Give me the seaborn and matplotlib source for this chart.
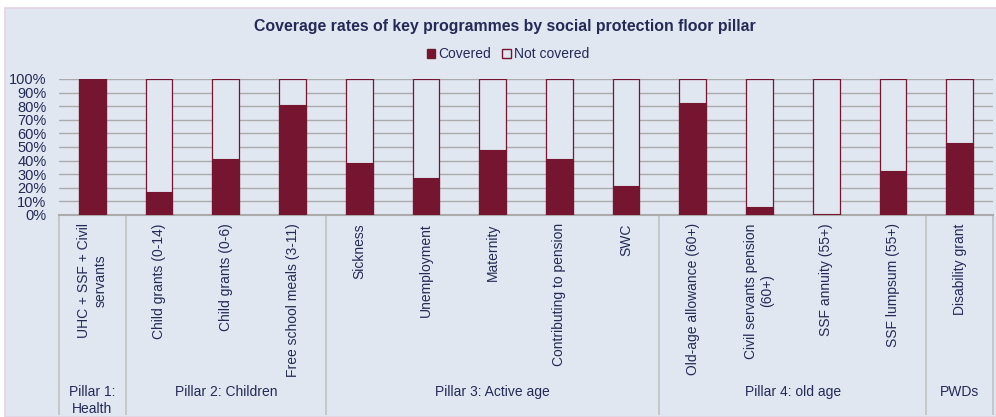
import matplotlib
matplotlib.use("Agg")
import matplotlib.pyplot as plt
import matplotlib.patches as mpatches
import seaborn as sns
import pandas as pd

categories = ["UHC + SSF + Civil\nservants", "Child grants (0-14)", "Child grants (0-6)",
              "Free school meals (3-11)", "Sickness", "Unemployment", "Maternity",
              "Contributing to pension", "SWC", "Old-age allowance (60+)",
              "Civil servants pension\n(60+)", "SSF annuity (55+)", "SSF lumpsum (55+)",
              "Disability grant"]
covered = [100, 17, 41, 81, 38, 27, 48, 41, 21, 82, 6, 1, 32, 53]
not_covered = [100 - v for v in covered]
pillars = ["Pillar 1:\nHealth", "Pillar 2: Children", "Pillar 3: Active age",
           "Pillar 4: old age", "PWDs"]
pillar_sizes = [1, 3, 5, 4, 1]
yticks = [0, 10, 20, 30, 40, 50, 60, 70, 80, 90, 100]

BG = "#E1E7F1"
MAROON = "#75152F"
TXT = "#232A55"
GRID = "#ABABAB"

sns.set_theme(style="white")
plt.rcParams["font.family"] = ["Liberation Sans", "DejaVu Sans"]

df = pd.DataFrame({"cat": categories, "covered": covered, "not_covered": not_covered})
df["total"] = df["covered"] + df["not_covered"]

fig = plt.figure(figsize=(9.96, 4.17), dpi=100)
fig.patch.set_facecolor("white")
# chart area background with thin border
bgrect = mpatches.Rectangle((5 / 996, 0), 1, 1 - 8 / 417, transform=fig.transFigure,
                            facecolor=BG, edgecolor="#E4D2E2", linewidth=1.2, zorder=-5)
fig.patches.append(bgrect)

ax = fig.add_axes([59 / 996, 1 - 215 / 417, (993 - 59) / 996, (215 - 79) / 417])
ax.set_zorder(2)
ax.set_facecolor(BG)
ax.patch.set_alpha(0)

sns.barplot(data=df, x="cat", y="total", color=BG, edgecolor=MAROON, linewidth=0.9,
            width=0.4, ax=ax, zorder=3, saturation=1)
sns.barplot(data=df, x="cat", y="covered", color=MAROON, edgecolor=MAROON, linewidth=0.8,
            width=0.4, ax=ax, zorder=4, saturation=1)

n = len(categories)
ax.set_xlim(-0.5, n - 0.5)
ax.set_ylim(0, 100)
ax.set_yticks(yticks)
ax.set_yticklabels([f"{v}%" for v in yticks], fontsize=10.5, color=TXT)
ax.yaxis.grid(True, color=GRID, linewidth=1.0)
ax.set_axisbelow(True)
for s in ["top", "right", "left"]:
    ax.spines[s].set_visible(False)
ax.spines["bottom"].set_color(GRID)
ax.spines["bottom"].set_linewidth(1.5)
ax.tick_params(axis="y", length=0, pad=9)
ax.tick_params(axis="x", length=0, pad=6)
ax.set_xlabel("")
ax.set_ylabel("")
ax.set_xticks(range(n))
ax.set_xticklabels(categories, rotation=90, fontsize=10, color=TXT,
                   ha="center", va="top", multialignment="center")

# group separators and pillar labels
trans = ax.get_xaxis_transform()
bounds = [-0.5]
for s in pillar_sizes:
    bounds.append(bounds[-1] + s)
ax.vlines(bounds, 0, -(415 - 215) / 136, transform=trans, colors="#C4C4C4",
          linewidth=1.3, clip_on=False, zorder=1)
for i, lab in enumerate(pillars):
    cx = (bounds[i] + bounds[i + 1]) / 2
    ax.text(cx, -(385 - 215) / 136, lab, transform=trans, ha="center", va="top",
            fontsize=10, color=TXT, linespacing=1.25, clip_on=False)

fig.text(505 / 996, 1 - 27 / 417, "Coverage rates of key programmes by social protection floor pillar",
         ha="center", va="center", fontsize=11.4, fontweight="bold", color=TXT)

handles = [mpatches.Patch(facecolor=MAROON, edgecolor=MAROON, label="Covered"),
           mpatches.Patch(facecolor=BG, edgecolor=MAROON, label="Not covered")]
fig.legend(handles=handles, loc="center", bbox_to_anchor=(508 / 996, 1 - 54 / 417),
           ncol=2, frameon=False, fontsize=10, handlelength=0.6, handleheight=0.6,
           handletextpad=0.25, columnspacing=0.8, labelcolor=TXT)

fig.savefig("out.png", dpi=100, facecolor=fig.get_facecolor())
